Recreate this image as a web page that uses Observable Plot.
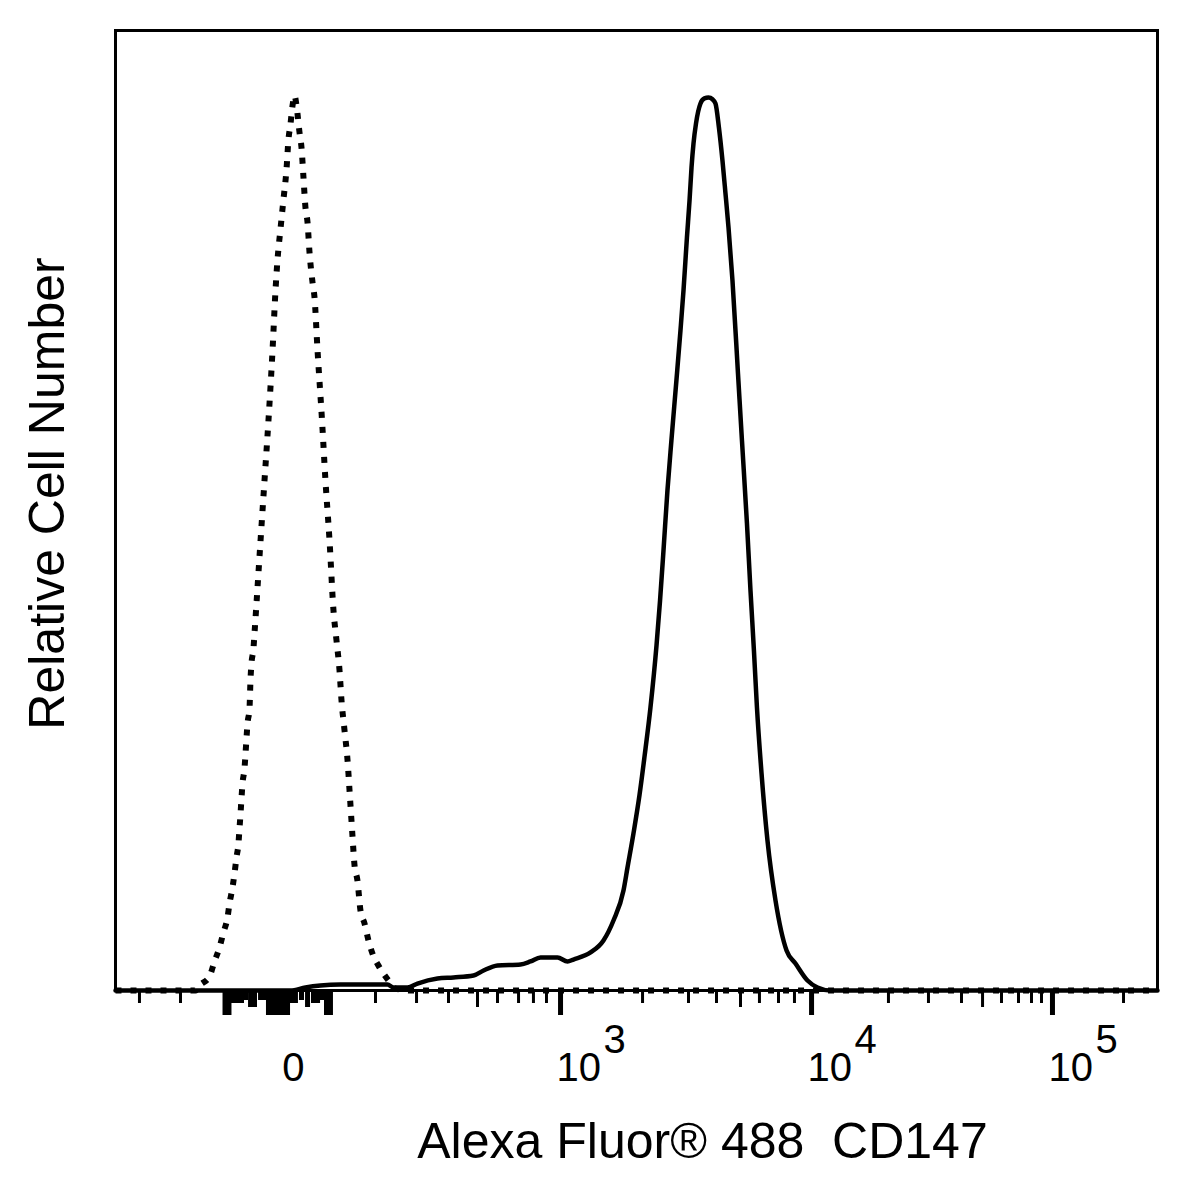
<!DOCTYPE html>
<html>
<head>
<meta charset="utf-8">
<script src="https://cdn.jsdelivr.net/npm/d3@7"></script>
<script src="https://cdn.jsdelivr.net/npm/@observablehq/plot@0.6"></script>
<style>
  html, body { margin: 0; padding: 0; background: #fff; }
  svg { display: block; }
</style>
</head>
<body>
<div id="chart"></div>
<script>
// x values are display channels (0–1000) of the biexponential FL axis; y = relative cell number (% of peak)
const isoX = [0, 76.8, 80.6, 90.2, 95.0, 99.8, 103.6, 107.5, 109.4, 112.3, 114.2, 116.1, 118.0, 119.0, 120.0, 120.9, 121.9, 123.8, 124.8, 125.7, 126.7, 128.6, 129.6, 130.5, 132.4, 133.4, 135.3, 139.2, 143.0, 146.8, 150.7, 153.6, 155.5, 158.3, 161.2, 164.1, 166.0, 167.9, 169.9, 171.8, 173.7, 176.6, 178.5, 180.4, 182.3, 184.3, 186.2, 189.1, 191.0, 193.9, 198.2, 201.5, 205.4, 209.2, 212.1, 215.0, 216.9, 219.8, 222.7, 224.6, 227.4, 229.4, 232.2, 235.1, 239.0, 242.8, 246.6, 253.4, 262.0, 268.7, 283.1, 1000];
const isoY = [0, 0, 0.56, 1.57, 3.25, 4.82, 6.49, 8.17, 9.74, 11.53, 13.10, 14.89, 16.46, 18.14, 19.82, 21.50, 23.18, 24.86, 26.54, 28.22, 29.90, 31.58, 34.94, 36.62, 38.30, 39.98, 43.34, 50.39, 57.11, 63.83, 71.67, 78.50, 81.86, 85.22, 88.58, 91.94, 95.30, 96.98, 99.10, 100.22, 99.10, 96.08, 94.40, 91.04, 87.68, 86.00, 82.64, 79.28, 77.60, 71.67, 63.83, 57.11, 50.39, 42.55, 39.19, 35.83, 32.47, 29.12, 25.76, 22.40, 17.36, 14.00, 12.32, 8.96, 7.50, 5.60, 4.14, 2.58, 1.12, 0.22, 0, 0];

const cd147X = [0, 167.9, 182.3, 196.7, 215.9, 261.0, 266.8, 280.2, 289.8, 309.0, 324.4, 343.6, 353.2, 366.6, 388.7, 398.3, 407.9, 424.2, 433.8, 439.5, 455.9, 468.3, 477.9, 487.5, 491.4, 497.1, 502.9, 507.7, 513.4, 519.2, 522.6, 525.9, 529.7, 533.5, 538.3, 542.2, 545.1, 548.4, 550.9, 552.8, 554.7, 557.1, 561.4, 565.2, 569.1, 572.9, 575.8, 579.1, 582.5, 585.4, 588.3, 592.1, 597.4, 601.2, 606.0, 609.4, 612.7, 615.6, 620.0, 625.7, 633.4, 644.0, 652.6, 664.1, 673.7, 686.2, 1000];
const cd147Y = [0, 0, 0.34, 0.56, 0.67, 0.67, 0.34, 0.34, 0.78, 1.34, 1.46, 1.68, 2.24, 2.80, 2.91, 3.25, 3.70, 3.70, 3.25, 3.47, 4.26, 5.60, 7.84, 11.20, 13.80, 17.60, 21.90, 26.20, 31.69, 38.63, 43.67, 49.27, 55.99, 61.59, 68.31, 73.91, 78.39, 84.32, 88.47, 92.16, 94.85, 97.09, 99.33, 99.9, 100.0, 99.8, 99.33, 96.64, 92.94, 89.25, 85.44, 79.51, 69.09, 61.59, 52.30, 44.79, 38.07, 31.69, 24.30, 16.80, 10.08, 4.48, 3.02, 1.12, 0.34, 0, 0];

// axis ticks (display channels)
const zeroTick = [170.8];
const majorTicks = [427.1, 668.0, 899.2];
const majorExponents = ["3", "4", "5"];
const halfDecadeTicks = [347.4, 599.8, 832.1];
const minorTicks = [23.0, 62.4, 249.5, 288.9, 319.6, 366.6, 386.8, 401.1, 413.6, 505.8, 549.9, 576.8, 618.0, 636.3, 651.6, 741.8, 780.2, 811.9, 850.3, 866.6, 879.1, 888.7, 967.4];
const linDeepTicks = [105.1, 108.9, 146.8, 150.7, 154.5, 158.3, 162.2, 165.1, 202.5, 206.3];
const linMidTicks = [129.6, 133.4, 184.3];
const linShortTicks = [113.2, 117.1, 120.9, 168.9, 172.7, 190.0, 193.9];
const linShallowTicks = [124.8, 139.2, 143.0, 178.5, 197.8];

const xTitle = "Alexa Fluor® 488\u00A0 CD147";
const yTitle = "Relative Cell Number";

const iso = isoX.map((x, i) => ({x, y: isoY[i]}));
const cd147 = cd147X.map((x, i) => ({x, y: cd147Y[i]}));

const noText = () => "";
const tickAxis = (ticks, size, width) =>
  Plot.axisX(ticks, {tickSize: size, strokeWidth: width, tickFormat: noText, label: null, strokeLinecap: "butt"});

const chart = Plot.plot({
  width: 1187,
  height: 1187,
  marginLeft: 115,
  marginRight: 30,
  marginTop: 30,
  marginBottom: 197,
  style: {fontFamily: "'Liberation Sans', Arial, Helvetica, sans-serif", background: "#fff", color: "#000", overflow: "visible"},
  x: {type: "linear", domain: [0, 1000]},
  y: {type: "linear", domain: [0, 107.5], axis: null},
  marks: [
    tickAxis(minorTicks, 13, 3),
    tickAxis(halfDecadeTicks, 17, 3),
    tickAxis(majorTicks, 25, 5),
    tickAxis(linDeepTicks, 25, 5),
    tickAxis(linMidTicks, 17, 5),
    tickAxis(linShortTicks, 13, 5),
    tickAxis(linShallowTicks, 10, 5),
    Plot.line(iso, {x: "x", y: "y", curve: "monotone-x", stroke: "#000", strokeWidth: 6, strokeDasharray: "6,9", strokeLinecap: "butt"}),
    Plot.line(cd147, {x: "x", y: "y", curve: "monotone-x", stroke: "#000", strokeWidth: 4.5, strokeLinejoin: "round"}),
    Plot.frame({stroke: "#000", strokeWidth: 3}),
    Plot.text(zeroTick, {x: d => d, text: () => "0", frameAnchor: "bottom", textAnchor: "middle", lineAnchor: "bottom", dy: 90, fontSize: 40}),
    Plot.text(majorTicks, {x: d => d, text: () => "10", frameAnchor: "bottom", textAnchor: "start", lineAnchor: "bottom", dy: 90, dx: -4, fontSize: 40}),
    Plot.text(majorTicks, {x: d => d, text: (d, i) => majorExponents[i], frameAnchor: "bottom", textAnchor: "start", lineAnchor: "bottom", dy: 62, dx: 43, fontSize: 40}),
    Plot.text([xTitle], {text: d => d, frameAnchor: "bottom", textAnchor: "middle", lineAnchor: "bottom", dy: 167, dx: 66, fontSize: 50}),
    Plot.text([yTitle], {text: d => d, frameAnchor: "left", textAnchor: "middle", lineAnchor: "bottom", rotate: -90, dx: -52, dy: -17, fontSize: 50})
  ]
});

document.getElementById("chart").appendChild(chart);
</script>
</body>
</html>
